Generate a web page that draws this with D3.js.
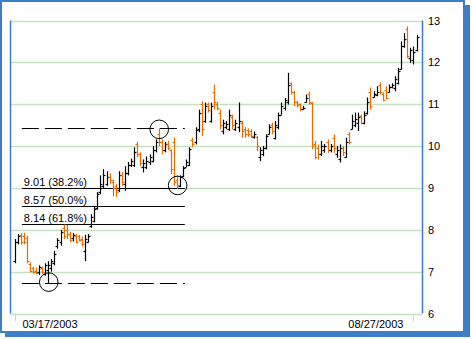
<!DOCTYPE html>
<html>
<head>
<meta charset="utf-8">
<script src="https://cdn.jsdelivr.net/npm/d3@7"></script>
<style>
  body { margin: 0; background: #fff; }
  text { font-family: "Liberation Sans", Arial, sans-serif; font-size: 11px; fill: #000; }
</style>
</head>
<body>
<svg id="chart" width="472" height="339"></svg>
<script>
// OHLC values
var opens = [7.25,7.70,7.88,7.85,7.80,7.18,7.08,7.02,6.98,7.08,6.95,7.05,7.08,7.20,7.62,7.70,8.05,8.00,7.90,7.80,
  7.85,7.85,7.78,7.50,7.72,8.10,8.20,8.52,8.90,9.05,9.10,9.25,9.15,9.05,8.95,9.30,9.10,9.35,9.55,9.55,
  10.05,9.80,9.50,9.50,9.62,9.65,9.90,10.30,10.10,9.90,10.05,9.90,10.10,9.20,
  9.05,9.28,9.50,9.55,10.15,10.10,10.40,11.00,10.60,11.00,10.60,11.30,11.00,
  10.80,10.35,10.45,10.40,10.70,10.40,10.45,10.55,10.40,10.38,10.35,10.22,10.22,9.75,9.82,9.95,10.28,10.50,10.20,10.45,
  10.75,10.90,11.05,11.50,11.30,11.05,11.00,10.88,11.05,11.25,11.03,10.05,9.95,9.80,9.90,10.10,9.90,10.20,9.80,9.70,
  9.95,9.75,10.30,10.40,10.50,10.55,10.72,10.55,10.80,11.30,11.18,11.22,11.45,
  11.25,11.35,11.30,11.40,11.38,11.50,11.85,12.40,12.80,12.10,12.05,12.30]
var highs = [7.78,7.90,7.92,7.93,7.85,7.22,7.12,7.10,7.15,7.12,7.20,7.25,7.30,7.50,7.80,8.00,8.13,8.12,7.95,7.92,
  7.90,7.88,7.84,7.88,7.90,8.37,8.57,8.90,9.30,9.45,9.40,9.35,9.20,9.10,9.40,9.38,9.52,9.62,9.70,9.97,
  10.10,9.85,9.68,9.75,9.80,10.00,10.16,10.42,10.16,10.10,10.12,9.92,10.20,9.30,
  9.30,9.52,9.68,9.97,10.20,10.45,10.87,11.07,11.04,11.04,11.04,11.47,11.05,
  10.87,10.63,10.60,10.87,10.75,10.63,11.04,10.60,10.45,10.42,10.40,10.35,10.24,9.97,10.00,10.28,10.52,10.56,10.60,10.80,
  11.04,11.15,11.75,11.52,11.32,11.08,11.02,10.96,11.23,11.30,11.05,10.12,10.04,10.12,10.05,10.16,10.05,10.28,10.00,10.04,
  10.00,10.20,10.33,10.75,10.80,10.80,10.75,10.83,11.16,11.40,11.31,11.43,11.52,
  11.28,11.43,11.47,11.50,11.67,11.87,12.50,12.70,12.86,12.35,12.38,12.66]
var lows = [7.20,7.65,7.64,7.65,7.20,6.98,6.95,6.94,6.92,6.95,6.90,6.73,7.00,7.15,7.55,7.62,7.78,7.78,7.70,7.72,
  7.68,7.72,7.60,7.25,7.70,8.05,8.18,8.48,8.85,9.00,9.05,9.10,8.80,8.78,8.90,9.05,8.93,9.30,9.50,9.50,
  9.73,9.52,9.37,9.45,9.55,9.61,9.85,10.00,9.80,9.85,9.90,9.33,9.05,8.98,
  9.02,9.26,9.50,9.52,9.97,10.04,10.33,10.24,10.56,10.80,10.56,10.87,10.85,
  10.40,10.28,10.40,10.36,10.40,10.36,10.33,10.20,10.20,10.22,10.20,10.18,9.88,9.64,9.76,9.92,10.28,10.28,10.16,10.40,
  10.75,10.85,10.99,11.23,10.95,10.92,10.83,10.87,11.04,10.99,9.92,9.68,9.68,9.76,9.84,9.84,9.85,9.84,9.72,9.61,
  9.76,9.72,10.04,10.40,10.45,10.36,10.52,10.52,10.75,10.87,11.16,11.19,11.23,
  11.07,11.11,11.28,11.38,11.31,11.47,11.83,12.35,12.10,11.99,11.95,12.26]
var closes = [7.70,7.85,7.70,7.72,7.25,7.02,7.00,6.97,7.10,6.98,7.15,7.15,7.25,7.42,7.75,7.95,7.85,7.90,7.75,7.88,
  7.72,7.75,7.65,7.78,7.85,8.30,8.50,8.85,9.10,9.30,9.25,9.18,9.00,8.90,9.30,9.15,9.35,9.55,9.65,9.85,
  9.80,9.60,9.60,9.65,9.75,9.90,10.10,10.10,9.90,10.05,9.95,9.45,9.15,9.08,
  9.25,9.48,9.62,9.92,10.05,10.38,10.80,10.40,10.95,10.85,10.95,11.05,10.92,
  10.50,10.55,10.52,10.75,10.50,10.55,10.60,10.35,10.30,10.28,10.25,10.30,10.00,9.90,9.95,10.25,10.45,10.35,10.50,10.75,
  10.95,11.10,11.45,11.30,11.05,10.98,10.88,10.92,11.15,11.05,10.00,9.75,9.80,10.00,10.00,9.90,10.00,9.95,9.90,9.95,
  9.85,10.10,10.10,10.60,10.65,10.70,10.55,10.75,11.05,10.95,11.25,11.30,11.28,
  11.10,11.15,11.42,11.45,11.60,11.80,12.40,12.55,12.15,12.30,12.25,12.60]

var priceTicks = [6, 7, 8, 9, 10, 11, 12, 13]
var dateLabels = ['03/17/2003', '08/27/2003']
var dateIndex = [0, 130]

// Fibonacci retracement between the swing low and swing high
var swingLow = 6.725, swingHigh = 10.42
var fibRatios = [0.382, 0.5, 0.618]
var fibSpan = [2.4, 55.5]       // bar index range of the drawn lines
var swingMarks = [{ i: 11, v: 6.75 }, { i: 47, v: 10.40 }, { i: 53, v: 9.06 }]

var blue = '#3d7ec6', green = '#c2e2c2', orange = '#e66e00'

var svg = d3.select('#chart')

// frame with drop shadow
svg.append('rect').attr('x', 5).attr('y', 5).attr('width', 465).attr('height', 332).attr('fill', blue)
svg.append('rect').attr('x', 1).attr('y', 1).attr('width', 463).attr('height', 331)
  .attr('fill', '#fff').attr('stroke', blue).attr('stroke-width', 2)

var plotLeft = 10, plotRight = 422, plotTop = 20.5, plotBottom = 313.5

var x = d3.scaleLinear().domain([0, opens.length - 1]).range([14.5, 416.5])
var y = d3.scaleLinear().domain([6, 13]).range([plotBottom, plotTop])

// grid lines
svg.append('g').selectAll('line').data(priceTicks).enter().append('line')
  .attr('x1', plotLeft).attr('x2', plotRight)
  .attr('y1', function (d) { return Math.round(y(d)) + 0.5 })
  .attr('y2', function (d) { return Math.round(y(d)) + 0.5 })
  .style('stroke', green).style('stroke-width', 1.5)

// date ticks
svg.append('g').selectAll('line').data(dateIndex).enter().append('line')
  .attr('x1', function (d) { return Math.round(x(d)) + 0.5 })
  .attr('x2', function (d) { return Math.round(x(d)) + 0.5 })
  .attr('y1', plotBottom).attr('y2', plotBottom + 8)
  .style('stroke', green).style('stroke-width', 1)

// plot borders left and right
svg.append('line').attr('x1', plotLeft + 0.5).attr('x2', plotLeft + 0.5).attr('y1', plotTop).attr('y2', plotBottom)
  .style('stroke', blue).style('stroke-width', 1.5)
svg.append('line').attr('x1', plotRight + 0.5).attr('x2', plotRight + 0.5).attr('y1', plotTop).attr('y2', plotBottom)
  .style('stroke', blue).style('stroke-width', 1.5)

// price labels
svg.append('g').selectAll('text').data(priceTicks).enter().append('text')
  .attr('x', 428).attr('y', function (d) { return y(d) + 4 })
  .text(function (d) { return d })

// date labels
svg.append('text').attr('x', x(dateIndex[0]) + 8).attr('y', 328).text(dateLabels[0])
svg.append('text').attr('x', x(dateIndex[1]) - 10).attr('y', 328).attr('text-anchor', 'end').text(dateLabels[1])

// fibonacci levels
var fibLevels = fibRatios.map(function (r) { return Math.round((swingHigh - r * (swingHigh - swingLow)) * 100) / 100 })
var fib = svg.append('g')
fib.selectAll('line.level').data(fibLevels).enter().append('line')
  .attr('class', 'level')
  .attr('x1', x(fibSpan[0])).attr('x2', x(fibSpan[1]))
  .attr('y1', function (d) { return Math.round(y(d)) + 0.5 })
  .attr('y2', function (d) { return Math.round(y(d)) + 0.5 })
  .style('stroke', '#000').style('stroke-width', 1)
fib.selectAll('text').data(fibLevels).enter().append('text')
  .attr('x', x(fibSpan[0]) + 2)
  .attr('y', function (d) { return Math.round(y(d)) - 2 })
  .text(function (d, i) { return d.toFixed(2) + ' (' + (fibRatios[i] * 100).toFixed(1) + '%)' })

// dashed swing lines
fib.selectAll('line.swing').data([swingHigh, swingLow]).enter().append('line')
  .attr('class', 'swing')
  .attr('x1', x(fibSpan[0])).attr('x2', x(fibSpan[1]))
  .attr('y1', function (d) { return Math.round(y(d)) + 0.5 })
  .attr('y2', function (d) { return Math.round(y(d)) + 0.5 })
  .style('stroke', '#000').style('stroke-width', 1).style('stroke-dasharray', '17,6')

// OHLC bars
var bars = svg.append('g').selectAll('g').data(opens).enter().append('g')
  .style('stroke', function (d, i) { return closes[i] < opens[i] ? orange : '#000' })
  .style('stroke-width', 1.2)
bars.append('line')
  .attr('x1', function (d, i) { return Math.round(x(i)) + 0.5 })
  .attr('x2', function (d, i) { return Math.round(x(i)) + 0.5 })
  .attr('y1', function (d, i) { return y(highs[i]) })
  .attr('y2', function (d, i) { return y(lows[i]) })
bars.append('line')
  .attr('x1', function (d, i) { return Math.round(x(i)) - 1.5 })
  .attr('x2', function (d, i) { return Math.round(x(i)) + 0.5 })
  .attr('y1', function (d, i) { return Math.round(y(opens[i])) + 0.5 })
  .attr('y2', function (d, i) { return Math.round(y(opens[i])) + 0.5 })
bars.append('line')
  .attr('x1', function (d, i) { return Math.round(x(i)) + 0.5 })
  .attr('x2', function (d, i) { return Math.round(x(i)) + 2.5 })
  .attr('y1', function (d, i) { return Math.round(y(closes[i])) + 0.5 })
  .attr('y2', function (d, i) { return Math.round(y(closes[i])) + 0.5 })

// swing circles
svg.append('g').selectAll('circle').data(swingMarks).enter().append('circle')
  .attr('cx', function (d) { return x(d.i) + 0.5 })
  .attr('cy', function (d) { return y(d.v) })
  .attr('r', 9.3)
  .attr('fill', 'none').attr('stroke', '#000').attr('stroke-width', 1)
</script>
</body>
</html>
